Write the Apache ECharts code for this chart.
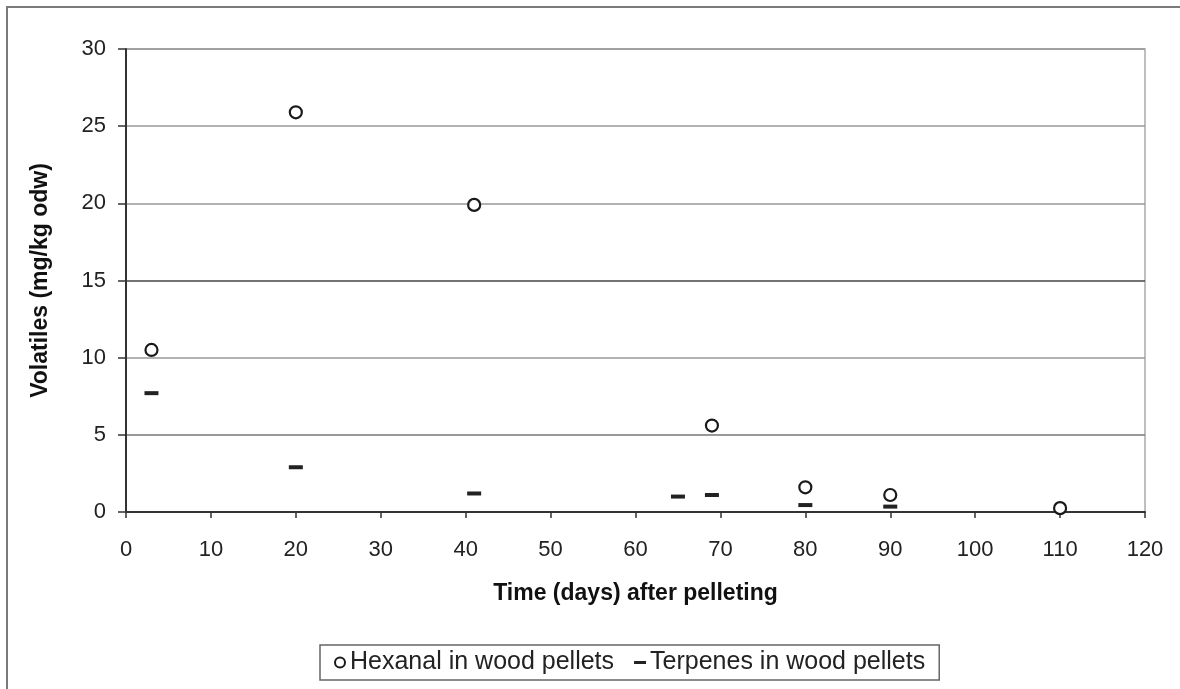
<!DOCTYPE html>
<html>
<head>
<meta charset="utf-8">
<script src="https://cdn.jsdelivr.net/npm/echarts@6/dist/echarts.min.js"></script>
<style>
  html, body { margin: 0; padding: 0; background: #fff; }
  #chart { width: 1180px; height: 689px; }
</style>
</head>
<body>
<div id="chart"></div>
<script>
// Volatile emissions from wood pellets over storage time
const hexanalDays   = [3, 20, 41, 69, 80, 90, 110];
const hexanalValues = [10.5, 25.9, 19.9, 5.6, 1.6, 1.1, 0.25];
const terpeneDays   = [3, 20, 41, 65, 69, 80, 90];
const terpeneValues = [7.7, 2.9, 1.2, 1.0, 1.1, 0.45, 0.35];
const seriesNames   = ['Hexanal in wood pellets', 'Terpenes in wood pellets'];
const xTitle = 'Time (days) after pelleting';
const yTitle = 'Volatiles (mg/kg odw)';

const font = '"Liberation Sans", Arial, sans-serif';
const pairs = (xs, ys) => xs.map((x, i) => [x, ys[i]]);

const chart = echarts.init(document.getElementById('chart'), null, { renderer: 'canvas' });
chart.setOption({
  animation: false,
  backgroundColor: '#fff',
  graphic: [{
    type: 'rect',
    shape: { x: 7, y: 7, width: 1250, height: 760 },
    style: { fill: 'none', stroke: '#7a7a7a', lineWidth: 2 },
    silent: true,
    z: -1
  }],
  grid: { left: 126, top: 49, right: 35, bottom: 177, show: true, borderColor: '#aaa', borderWidth: 1.5 },
  xAxis: {
    type: 'value', min: 0, max: 120, interval: 10,
    name: xTitle, nameLocation: 'middle', nameGap: 70,
    nameTextStyle: { fontFamily: font, fontSize: 23, fontWeight: 'bold', color: '#111' },
    axisLine: { lineStyle: { color: '#333', width: 2 } },
    axisTick: { show: true, length: 6, lineStyle: { color: '#333', width: 1.5 } },
    axisLabel: { fontFamily: font, fontSize: 22, color: '#222', margin: 27 },
    splitLine: { show: false }
  },
  yAxis: {
    type: 'value', min: 0, max: 30, interval: 5,
    name: yTitle, nameLocation: 'middle', nameGap: 74,
    nameTextStyle: { fontFamily: font, fontSize: 23, fontWeight: 'bold', color: '#111' },
    axisLine: { show: true, lineStyle: { color: '#333', width: 2 } },
    axisTick: { show: true, inside: false, length: 8, lineStyle: { color: '#333', width: 1.5 } },
    axisLabel: { fontFamily: font, fontSize: 22, color: '#222', margin: 20 },
    splitLine: { show: true, lineStyle: { color: ['#999', '#777', '#999', '#444', '#999', '#999', '#999'], width: 1.5 } }
  },
  legend: {
    left: 320, top: 645,
    orient: 'horizontal',
    borderColor: '#666', borderWidth: 1.5,
    padding: [5, 14, 5, 14],
    itemGap: 20,
    itemWidth: 12, itemHeight: 10,
    textStyle: { fontFamily: font, fontSize: 25, color: '#222', padding: [0, 0, 0, -1] },
    data: [
      { name: seriesNames[0], icon: 'circle' },
      { name: seriesNames[1], icon: 'path://M0,0 H12 V3 H0 Z' }
    ]
  },
  series: [
    {
      name: seriesNames[0], type: 'scatter',
      data: pairs(hexanalDays, hexanalValues),
      symbol: 'circle', symbolSize: 12,
      itemStyle: { color: '#fff', borderColor: '#1a1a1a', borderWidth: 2.2, opacity: 1 },
      z: 3
    },
    {
      name: seriesNames[1], type: 'scatter',
      data: pairs(terpeneDays, terpeneValues),
      symbol: 'rect', symbolSize: [14, 4],
      itemStyle: { color: '#222', opacity: 1 },
      z: 2
    }
  ]
});
</script>
</body>
</html>
